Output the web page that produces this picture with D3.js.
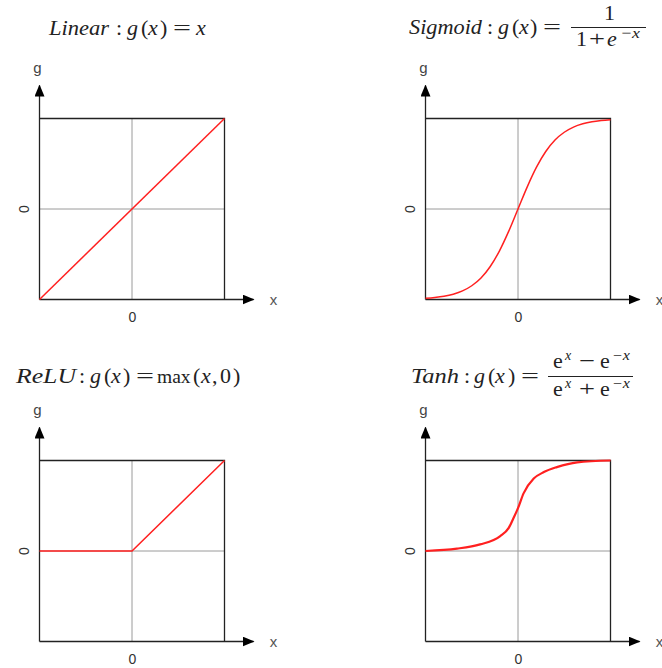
<!DOCTYPE html>
<html><head><meta charset="utf-8">
<script src="https://cdn.jsdelivr.net/npm/d3@7"></script>
<style>body{margin:0;background:#fff}svg{display:block}</style>
</head><body>
<script>
// ---- data (schematic curves, normalized units) ----
const panelNames = ["Linear", "Sigmoid", "ReLU", "Tanh"];
const linearX = [-5, 5];
const linearY = [-1, 1];
const sigmoidX = [-5,-4.5,-4,-3.5,-3,-2.5,-2,-1.5,-1,-0.5,0,0.5,1,1.5,2,2.5,3,3.5,4,4.5,5];
const sigmoidY = [-0.987,-0.978,-0.964,-0.941,-0.905,-0.848,-0.762,-0.635,-0.462,-0.245,0,0.245,0.462,0.635,0.762,0.848,0.905,0.941,0.964,0.978,0.987];
const reluX = [-5, 0, 5];
const reluY = [0, 0, 1];
const tanhX = [-5,-3.3,-2.05,-0.96,-0.5,-0.24,0,0.3,0.85,1.4,2.1,3.2,5];
const tanhY = [0,0.026,0.073,0.164,0.255,0.364,0.473,0.637,0.80,0.872,0.927,0.98,1.0];
const xTicks = [0];
const yTicks = [0];
const xDomain = [-5, 5];
const yDomain = [-1, 1];

const W = 662, H = 668;
const svg = d3.select("body").append("svg").attr("width", W).attr("height", H);
const pw = 185, ph = 181;
const panels = [
  {x: 39.5, y: 118.5, xs: linearX, ys: linearY, sw: 1.5, curve: d3.curveLinear},
  {x: 425.5, y: 118.5, xs: sigmoidX, ys: sigmoidY, sw: 1.5, curve: d3.curveMonotoneX},
  {x: 39.5, y: 460.5, xs: reluX, ys: reluY, sw: 1.5, curve: d3.curveLinear},
  {x: 425.5, y: 460.5, xs: tanhX, ys: tanhY, sw: 2.2, curve: d3.curveMonotoneX}
];

const defs = svg.append("defs");
defs.append("marker").attr("id","arr").attr("viewBox","0 0 12 10").attr("refX",11).attr("refY",5)
  .attr("markerWidth",12).attr("markerHeight",10).attr("markerUnits","userSpaceOnUse").attr("orient","auto")
  .append("path").attr("d","M0,0 L12,5 L0,10 Z").attr("fill","#000");

const labelFont = "'Liberation Sans', Arial, sans-serif";

panels.forEach((p, i) => {
  const g = svg.append("g").attr("transform", `translate(${p.x},${p.y})`);
  const x = d3.scaleLinear().domain(xDomain).range([0, pw]);
  const y = d3.scaleLinear().domain(yDomain).range([ph, 0]);
  g.append("line").attr("x1", x(0)).attr("x2", x(0)).attr("y1", 0).attr("y2", ph).attr("stroke", "#9a9a9a").attr("stroke-width", 1);
  g.append("line").attr("x1", 0).attr("x2", pw).attr("y1", y(0)).attr("y2", y(0)).attr("stroke", "#9a9a9a").attr("stroke-width", 1);
  g.append("path").attr("d", `M0,0 H${pw} V${ph}`).attr("fill", "none").attr("stroke", "#222").attr("stroke-width", 1.3);
  g.append("line").attr("x1", 0).attr("y1", ph).attr("x2", 0).attr("y2", -33).attr("stroke", "#222").attr("stroke-width", 1.3).attr("marker-end", "url(#arr)");
  g.append("line").attr("x1", 0).attr("y1", ph).attr("x2", pw + 29).attr("y2", ph).attr("stroke", "#222").attr("stroke-width", 1.3).attr("marker-end", "url(#arr)");
  g.append("text").attr("x", -2).attr("y", -46).attr("text-anchor", "middle").attr("font-family", labelFont).attr("font-size", 15).attr("fill", "#444").text("g");
  g.append("text").attr("x", pw + 49).attr("y", ph + 5).attr("text-anchor", "middle").attr("font-family", labelFont).attr("font-size", 15).attr("fill", "#555").text("x");
  const ax = g.append("g").attr("transform", `translate(0,${ph})`)
    .call(d3.axisBottom(x).tickValues(xTicks).tickSize(0).tickPadding(13).tickFormat(d3.format("d")));
  ax.select(".domain").remove();
  ax.selectAll("text").attr("font-family", labelFont).attr("font-size", 14).attr("fill", "#333");
  const ay = g.append("g")
    .call(d3.axisLeft(y).tickValues(yTicks).tickSize(0).tickFormat(d3.format("d")));
  ay.select(".domain").remove();
  ay.selectAll("text").attr("font-family", labelFont).attr("font-size", 14).attr("fill", "#333")
    .attr("x", 0).attr("dy", 0).attr("text-anchor", "middle")
    .attr("transform", d => `translate(-16,${y(d)}) rotate(-90)`).attr("y", 5);
  ay.selectAll(".tick").attr("transform", null);
  const pts = p.xs.map((v, k) => [v, p.ys[k]]);
  g.append("path").datum(pts)
    .attr("d", d3.line().x(d => x(d[0])).y(d => y(d[1])).curve(p.curve))
    .attr("fill", "none").attr("stroke", "#ff2020").attr("stroke-width", p.sw);
});

// ---- titles (math): one text per formula, each token placed where it sits in the picture ----
const mathFont = "'Liberation Serif', 'Times New Roman', serif";
function formula(items) {
  const t = svg.append("text").attr("font-family", mathFont).attr("font-size", 22).attr("fill", "#222");
  items.forEach(([xp, yp, s, it, len, size]) => {
    const ts = t.append("tspan").attr("x", xp).attr("y", yp).attr("font-style", it ? "italic" : "normal").text(s);
    if (size) ts.attr("font-size", size);
    if (len) ts.attr("textLength", len).attr("lengthAdjust", "spacingAndGlyphs");
  });
  return t;
}
formula([[49, 35, "Linear", 1, 60], [116, 35, ":", 0], [127, 35, "g", 1], [141, 35, "(", 0], [148, 35, "x", 1],
         [160, 35, ")", 0], [173, 35, "=", 0, 18], [196, 35, "x", 1]]);
formula([[409, 34, "Sigmoid", 1, 73], [487, 34, ":", 0], [498, 34, "g", 1], [512, 34, "(", 0], [519, 34, "x", 1],
         [530, 34, ")", 0], [543, 34, "=", 0, 18],
         [604, 20, "1", 0], [576, 46, "1", 0], [589, 46, "+", 0, 16], [607, 46, "e", 1], [620, 38, "−x", 1, 20, 15]]);
svg.append("line").attr("x1", 571).attr("x2", 646).attr("y1", 27.5).attr("y2", 27.5).attr("stroke", "#222").attr("stroke-width", 1);
formula([[16, 383, "ReLU", 1, 60], [79, 383, ":", 0], [90, 383, "g", 1], [104, 383, "(", 0], [111, 383, "x", 1],
         [123, 383, ")", 0], [136, 383, "=", 0, 18], [157, 383, "max", 0, 0, 19.5], [193, 383, "(", 0], [201, 383, "x", 1],
         [212, 383, ",", 0], [220, 383, "0", 0], [233, 383, ")", 0]]);
formula([[411, 383, "Tanh", 1, 48], [464, 383, ":", 0], [474, 383, "g", 1], [488, 383, "(", 0], [495, 383, "x", 1],
         [508, 383, ")", 0], [521, 383, "=", 0, 18],
         [553, 368, "e", 0], [565, 360, "x", 1, 0, 14], [579, 368, "−", 0, 16], [600, 368, "e", 0], [612, 360, "−x", 1, 18, 14],
         [553, 396, "e", 0], [565, 388, "x", 1, 0, 14], [579, 396, "+", 0, 16], [600, 396, "e", 0], [612, 388, "−x", 1, 18, 14]]);
svg.append("line").attr("x1", 548).attr("x2", 633).attr("y1", 376.5).attr("y2", 376.5).attr("stroke", "#222").attr("stroke-width", 1);
</script>
</body></html>
